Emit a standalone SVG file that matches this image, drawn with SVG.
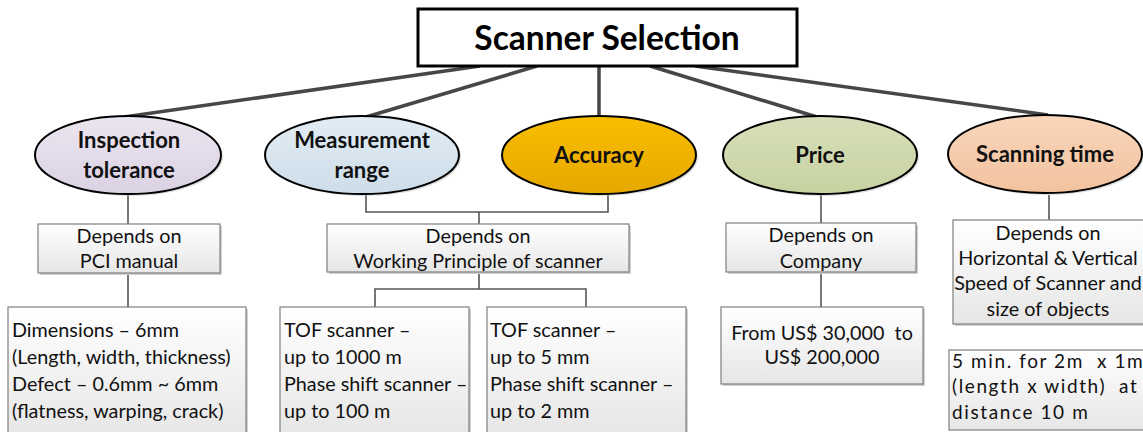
<svg xmlns="http://www.w3.org/2000/svg" width="1143" height="432" viewBox="0 0 1143 432">
<style>
.title{font-family:Lato,"Open Sans",sans-serif;font-weight:bold;font-size:33.5px;fill:#000;text-anchor:middle}
.elab{font-family:Lato,"Open Sans",sans-serif;font-weight:bold;font-size:22px;fill:#111;text-anchor:middle}
.t{font-family:Lato,"Open Sans",sans-serif;font-size:19.8px;fill:#111}
.c{text-anchor:middle}
.sp{font-family:Lato,"Open Sans",sans-serif;font-size:19px;fill:#111;letter-spacing:1.6px}
.ell{stroke:#000;stroke-width:2}
.box{fill:url(#gBox);stroke:#7f7f7f;stroke-width:1.2}
.shadow{fill:#d0d0d0}
.main{stroke:#474747;stroke-width:3.5;fill:none}
.sub{stroke:#555;stroke-width:1.6;fill:none}
</style>
<defs>
<linearGradient id="gBox" x1="0" y1="0" x2="0" y2="1"><stop offset="0" stop-color="#ffffff"/><stop offset="1" stop-color="#e6e6e6"/></linearGradient>
<linearGradient id="gInsp" x1="0" y1="0" x2="0" y2="1"><stop offset="0" stop-color="#ece6f0"/><stop offset="1" stop-color="#dad1e3"/></linearGradient>
<linearGradient id="gMeas" x1="0" y1="0" x2="0" y2="1"><stop offset="0" stop-color="#e2ecf4"/><stop offset="1" stop-color="#cddde9"/></linearGradient>
<linearGradient id="gAcc" x1="0" y1="0" x2="0" y2="1"><stop offset="0" stop-color="#f9be00"/><stop offset="1" stop-color="#e6a800"/></linearGradient>
<linearGradient id="gPrice" x1="0" y1="0" x2="0" y2="1"><stop offset="0" stop-color="#d7dfba"/><stop offset="1" stop-color="#c7d2a0"/></linearGradient>
<linearGradient id="gScan" x1="0" y1="0" x2="0" y2="1"><stop offset="0" stop-color="#f9d6bb"/><stop offset="1" stop-color="#f2c29e"/></linearGradient>
</defs>
<rect width="1143" height="432" fill="#fff"/>

<g id="connectors">
<line class="main" x1="480" y1="66" x2="124" y2="117"/>
<line class="main" x1="537" y1="66" x2="366" y2="117"/>
<line class="main" x1="599" y1="66" x2="599" y2="116"/>
<line class="main" x1="650" y1="66" x2="817" y2="117"/>
<line class="main" x1="695" y1="66" x2="1048" y2="115"/>
<polyline class="sub" points="128,195 128,224"/>
<polyline class="sub" points="128,273 128,307"/>
<polyline class="sub" points="366,194 366,212 608,212 608,194"/>
<polyline class="sub" points="479,212 479,224"/>
<polyline class="sub" points="479,272 479,289"/>
<polyline class="sub" points="375,307 375,289 586,289 586,307"/>
<polyline class="sub" points="821,195 821,223"/>
<polyline class="sub" points="821,272 821,307"/>
<polyline class="sub" points="1049,195 1049,220"/>
</g>

<g id="title">
<rect x="418" y="9" width="379" height="57" fill="#fff" stroke="#000" stroke-width="3"/>
<text class="title" x="607" y="50">Scanner Selection</text>
</g>

<g id="n-inspection">
<ellipse cx="130" cy="157" rx="93" ry="39" fill="#bbb" opacity="0.5"/>
<ellipse class="ell" cx="128" cy="155" rx="93" ry="39" fill="url(#gInsp)"/>
<text class="elab" x="129" y="148">Inspection</text>
<text class="elab" x="129" y="178">tolerance</text>
</g>

<g id="n-measurement">
<ellipse cx="364" cy="157" rx="97" ry="39" fill="#bbb" opacity="0.5"/>
<ellipse class="ell" cx="362" cy="155" rx="97" ry="39" fill="url(#gMeas)"/>
<text class="elab" x="362" y="148">Measurement</text>
<text class="elab" x="362" y="178">range</text>
</g>

<g id="n-accuracy">
<ellipse cx="601" cy="157" rx="97" ry="39" fill="#bbb" opacity="0.5"/>
<ellipse class="ell" cx="599" cy="155" rx="97" ry="39" fill="url(#gAcc)"/>
<text class="elab" x="599" y="163">Accuracy</text>
</g>

<g id="n-price">
<ellipse cx="822" cy="157" rx="97" ry="39" fill="#bbb" opacity="0.5"/>
<ellipse class="ell" cx="820" cy="155" rx="97" ry="39" fill="url(#gPrice)"/>
<text class="elab" x="820" y="163">Price</text>
</g>

<g id="n-scanning">
<ellipse cx="1047" cy="156" rx="97" ry="39" fill="#bbb" opacity="0.5"/>
<ellipse class="ell" cx="1045" cy="154" rx="97" ry="39" fill="url(#gScan)"/>
<text class="elab" x="1045" y="162">Scanning time</text>
</g>

<g id="n-pci">
<rect class="shadow" x="40" y="226" width="182" height="49"/>
<rect class="box" x="38" y="224" width="182" height="49"/>
<text class="t c" x="129" y="243">Depends on</text>
<text class="t c" x="129" y="268">PCI manual</text>
</g>

<g id="n-working">
<rect class="shadow" x="329" y="226" width="302" height="48"/>
<rect class="box" x="327" y="224" width="302" height="48"/>
<text class="t c" x="478" y="243">Depends on</text>
<text class="t c" x="478" y="268">Working Principle of scanner</text>
</g>

<g id="n-company">
<rect class="shadow" x="728" y="225" width="190" height="49"/>
<rect class="box" x="726" y="223" width="190" height="49"/>
<text class="t c" x="821" y="242">Depends on</text>
<text class="t c" x="821" y="268">Company</text>
</g>

<g id="n-speed">
<rect class="shadow" x="955" y="222" width="200" height="104"/>
<rect class="box" x="953" y="220" width="200" height="104"/>
<text class="t c" x="1048" y="240">Depends on</text>
<text class="t c" x="1048" y="265">Horizontal &amp; Vertical</text>
<text class="t c" x="1048" y="290">Speed of Scanner and</text>
<text class="t c" x="1048" y="316">size of objects</text>
</g>

<g id="n-dimensions">
<rect class="shadow" x="10" y="309" width="238" height="130"/>
<rect class="box" x="8" y="307" width="238" height="130"/>
<text class="t" x="12" y="337">Dimensions – 6mm</text>
<text class="t" x="12" y="364">(Length, width, thickness)</text>
<text class="t" x="12" y="391">Defect – 0.6mm ~ 6mm</text>
<text class="t" x="12" y="418">(flatness, warping, crack)</text>
</g>

<g id="n-range">
<rect class="shadow" x="282" y="309" width="189" height="130"/>
<rect class="box" x="280" y="307" width="189" height="130"/>
<text class="t" x="284" y="337">TOF scanner –</text>
<text class="t" x="284" y="364">up to 1000 m</text>
<text class="t" x="284" y="391">Phase shift scanner –</text>
<text class="t" x="284" y="418">up to 100 m</text>
</g>

<g id="n-accvalues">
<rect class="shadow" x="489" y="309" width="199" height="130"/>
<rect class="box" x="487" y="307" width="199" height="130"/>
<text class="t" x="490" y="337">TOF scanner –</text>
<text class="t" x="490" y="364">up to 5 mm</text>
<text class="t" x="490" y="391">Phase shift scanner –</text>
<text class="t" x="490" y="418">up to 2 mm</text>
</g>

<g id="n-pricevalue">
<rect class="shadow" x="723" y="309" width="202" height="77"/>
<rect class="box" x="721" y="307" width="202" height="77"/>
<text class="t c" x="822" y="340" xml:space="preserve">From US$ 30,000  to</text>
<text class="t c" x="822" y="364">US$ 200,000</text>
</g>

<g id="n-time">
<rect class="box" x="949" y="350" width="200" height="80"/>
<text class="sp" x="952" y="368" xml:space="preserve">5 min. for 2m  x 1m</text>
<text class="sp" x="952" y="393" xml:space="preserve">(length x width)  at</text>
<text class="sp" x="952" y="419">distance 10 m</text>
</g>
</svg>
